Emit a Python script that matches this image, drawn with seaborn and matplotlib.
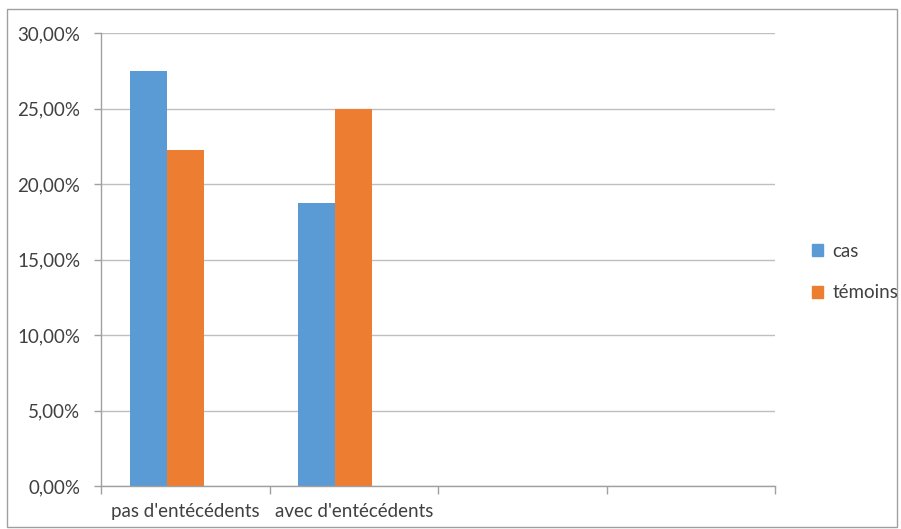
import matplotlib
matplotlib.use('Agg')
import matplotlib.pyplot as plt
import matplotlib.patches as mpatches
import pandas as pd
import seaborn as sns

# données
categories = ["pas d'entécédents", "avec d'entécédents", " ", "  "]
series = ['cas', 'témoins', 'vide']
cas = [27.5, 18.75]
temoins = [22.22, 25.0]
couleurs = ['#5B9BD5', '#ED7D31', '#A5A5A5']

sns.set_style('white')
plt.rcParams['font.family'] = ['Lato', 'DejaVu Sans']

df = pd.DataFrame({
    'categorie': categories[:2] * 2,
    'serie': ['cas'] * 2 + ['témoins'] * 2,
    'valeur': cas + temoins,
})

fig = plt.figure(figsize=(9.01, 5.29), dpi=100)
ax = fig.add_axes([101 / 901, 1 - 486 / 529, 674 / 901, 453 / 529])

sns.barplot(data=df, x='categorie', y='valeur', hue='serie',
            order=categories, hue_order=series, palette=couleurs,
            width=0.66, gap=0, errorbar=None, ax=ax, legend=False,
            saturation=1, linewidth=0)

ax.set_ylim(0, 30)
ax.set_xlim(-0.5, 3.5)
ax.set_yticks(range(0, 31, 5))
ax.set_yticklabels([f'{v},00%' for v in range(0, 31, 5)], fontsize=13.5, color='#404040')
ax.yaxis.grid(True, color='#BFBFBF', linewidth=1)
ax.set_axisbelow(True)
ax.tick_params(axis='y', length=5, color='#A0A0A0', width=1, pad=10, left=True)

# ticks x aux frontières des catégories, étiquettes au centre
ax.set_xticks([-0.5, 0.5, 1.5, 2.5, 3.5])
ax.set_xticklabels([])
ax.set_xticks([0, 1, 2, 3], minor=True)
ax.set_xticklabels(categories, minor=True, fontsize=13.5, color='#404040')
ax.tick_params(axis='x', which='major', length=6, color='#A0A0A0', width=1, bottom=True)
ax.tick_params(axis='x', which='minor', length=0, pad=12)

ax.set_xlabel('')
ax.set_ylabel('')
for s in ['top', 'right']:
    ax.spines[s].set_visible(False)
for s in ['left', 'bottom']:
    ax.spines[s].set_color('#A0A0A0')
    ax.spines[s].set_linewidth(1)

handles = [mpatches.Patch(color=couleurs[0], label='cas'),
           mpatches.Patch(color=couleurs[1], label='témoins')]
fig.legend(handles=handles, loc='center left', bbox_to_anchor=(795 / 901, 1 - 272 / 529),
           frameon=False, fontsize=13.5, handlelength=0.6, handleheight=0.6,
           handletextpad=0.5, labelspacing=1.3, labelcolor='#404040')

# cadre du graphique
fig.patches.append(mpatches.Rectangle((7 / 901, 2 / 529), 890 / 901, 518 / 529,
                                      transform=fig.transFigure, fill=False,
                                      edgecolor='#A0A0A0', linewidth=1))

fig.savefig('out.png', dpi=100)
